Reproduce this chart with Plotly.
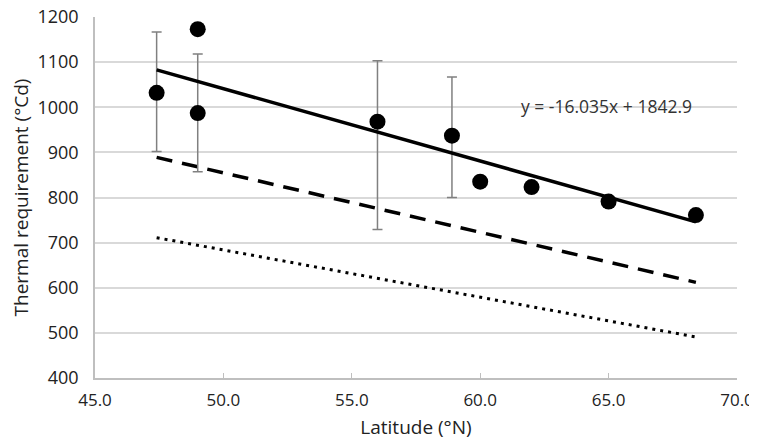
import plotly.graph_objects as go

# Observed data points
latitude = [47.4, 49.0, 49.0, 56.0, 58.9, 60.0, 62.0, 65.0, 68.4]
thermal_req = [1032, 1173, 987, 968, 937, 835, 823, 791, 761]

# Error bars (only for some points)
err_lat = [47.4, 49.0, 56.0, 58.9]
err_center = [1032, 987, 968, 937]
err_plus = [135, 131, 135, 130]
err_minus = [130, 130, 239, 137]

# Regression line (from displayed equation)
slope = -16.035
intercept = 1842.9
line_lat = [47.4, 68.4]
trend_vals = [intercept + slope * v for v in line_lat]

# Other reference lines (endpoints)
dashed_vals = [889, 612]
dotted_vals = [711, 491]

x_ticks = [45, 50, 55, 60, 65, 70]
x_ticklabels = ["45.0", "50.0", "55.0", "60.0", "65.0", "70.0"]

FONT = "Open Sans"

fig = go.Figure()

fig.add_trace(go.Scatter(
    x=line_lat, y=dotted_vals, mode="lines",
    line=dict(color="black", width=3, dash="3px,5px"),
    hoverinfo="skip", showlegend=False))
fig.add_trace(go.Scatter(
    x=line_lat, y=dashed_vals, mode="lines",
    line=dict(color="black", width=3.5, dash="16px,10px"),
    hoverinfo="skip", showlegend=False))
fig.add_trace(go.Scatter(
    x=err_lat, y=err_center, mode="markers",
    marker=dict(size=1, opacity=0),
    error_y=dict(type="data", symmetric=False, array=err_plus, arrayminus=err_minus,
                 color="#808080", thickness=1.5, width=5),
    hoverinfo="skip", showlegend=False))
fig.add_trace(go.Scatter(
    x=line_lat, y=trend_vals, mode="lines",
    line=dict(color="black", width=3.5),
    showlegend=False))
fig.add_trace(go.Scatter(
    x=latitude, y=thermal_req, mode="markers",
    marker=dict(color="black", size=16),
    showlegend=False))

fig.add_annotation(
    x=64.9, y=1003, xref="x", yref="y",
    text="y = -16.035x + 1842.9", showarrow=False,
    font=dict(family=FONT, size=17.5, color="#333333"))

# page body has an 8px margin, so the figure is sized/offset to compensate
fig.update_layout(
    width=749, height=439,
    margin=dict(l=87, r=20, t=9, b=69, autoexpand=False),
    paper_bgcolor="white", plot_bgcolor="white",
    font=dict(family=FONT, size=18, color="#222222"),
)
fig.update_xaxes(
    range=[45, 70], tickvals=x_ticks, ticktext=x_ticklabels,
    showgrid=False, zeroline=False, automargin=False,
    showline=True, linecolor="#bfbfbf", linewidth=1.5,
    ticks="inside", ticklen=5, tickcolor="#bfbfbf",
    tickfont=dict(size=17),
    ticklabelstandoff=6, ticklabeloverflow="allow",
    title=dict(text="Latitude (°N)", font=dict(size=19, color="#222222"), standoff=11),
)
fig.update_yaxes(
    range=[400, 1200], dtick=100, automargin=False,
    showgrid=True, gridcolor="#d9d9d9", gridwidth=1.5, zeroline=False,
    showline=True, linecolor="#bfbfbf", linewidth=1.5,
    ticks="", ticklabelstandoff=11, ticklabeloverflow="allow",
    title=dict(text="Thermal requirement (°Cd)", font=dict(size=19, color="#222222"), standoff=14),
)

fig.write_html("out.html")
